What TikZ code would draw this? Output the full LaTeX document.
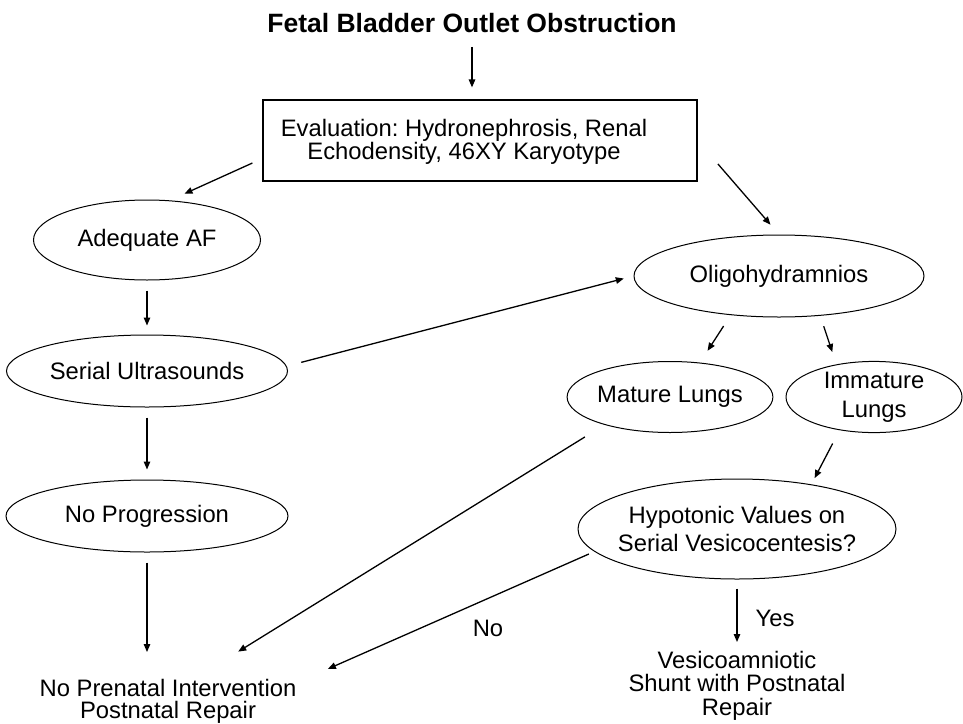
\documentclass[tikz,border=0pt]{standalone}
\usepackage{fontspec}
\setmainfont{Liberation Sans}
\frenchspacing
\usetikzlibrary{arrows.meta,shapes.geometric}
\tikzset{
  ttl/.style={inner sep=0pt,font=\fontsize{26.5}{30}\selectfont\bfseries},   % heading
  bubble/.style={ellipse,draw=black,line width=1pt,inner sep=0pt,align=center,
                 font=\fontsize{23.8}{28}\selectfont},                       % ellipse node
  evalbox/.style={draw=black,line width=1.2pt,minimum width=434pt,
                  minimum height=81pt,inner sep=0pt},                        % frame
  lbl/.style={inner sep=0pt,align=center,font=\fontsize{23.8}{23}\selectfont}, % plain text
  flow/.style={-{Triangle[length=8pt,width=6.5pt]},line width=1.3pt},       % arrow
}

\begin{document}
\begin{tikzpicture}[x=1pt,y=-1pt]
  \useasboundingbox (0,0) rectangle (963,723);
  \node[ttl] (title) at (472,23) {Fetal Bladder Outlet Obstruction};
  \node[evalbox] (eval) at (480,140.5) {};
  \node[lbl,font=\fontsize{23.8}{22}\selectfont] (evaltxt) at (464,142)
    {Evaluation: Hydronephrosis, Renal\\Echodensity, 46XY Karyotype};

  % left column
  \node[bubble,minimum width=227pt,minimum height=80pt] (af) at (147,240) {Adequate AF};
  \node[bubble,minimum width=281pt,minimum height=72pt] (serial) at (147,371) {Serial Ultrasounds};
  \node[bubble,minimum width=282pt,minimum height=72pt] (noprog) at (147,516) {No Progression};
  \node[lbl,anchor=north,font=\fontsize{23.8}{22}\selectfont] (noint) at (168,679)
    {No Prenatal Intervention\\Postnatal Repair};

  % right column
  \node[bubble,minimum width=290pt,minimum height=82pt] (oligo) at (779,276) {Oligohydramnios};
  \node[bubble,minimum width=181pt,minimum height=71pt] (mature) at (670,397) {Mature Lungs};
  \node[bubble,minimum width=176pt,minimum height=71pt,font=\fontsize{23.8}{29}\selectfont]
    (immature) at (874,397) {Immature\\Lungs};
  \node[bubble,minimum width=318pt,minimum height=100pt,inner xsep=-7pt] (hypo) at (737,529)
    {Hypotonic Values on\\Serial Vesicocentesis?};
  \node[lbl,anchor=north,font=\fontsize{23.8}{23.5}\selectfont] (vesico) at (737,651)
    {Vesicoamniotic\\Shunt with Postnatal\\Repair};
  \node[lbl] (yes) at (775,618) {Yes};
  \node[lbl] (no) at (488,628) {No};

  % arrows
  \draw[flow,shorten <=14pt,shorten >=12pt] (title.south) -- (title.south |- eval.north);
  \draw[flow,shorten <=11pt,shorten >=16pt] ([yshift=-18pt]eval.west) -- (af.60);
  \draw[flow,shorten <=31pt,shorten >=13pt] (eval.east) -- (oligo.north);
  \draw[flow,shorten <=10pt,shorten >=9pt] (af) -- (serial);
  \draw[flow,shorten <=10pt,shorten >=10pt] (serial) -- (noprog);
  \draw[flow,shorten <=10pt,shorten >=27pt] (noprog.south) -- (noprog.south |- noint.north);
  \draw[flow,shorten <=15pt,shorten >=10pt] (serial.2) -- (oligo.west);
  \draw[flow,shorten <=13pt,shorten >=14pt] (oligo.219) -- (mature.49);
  \draw[flow,shorten <=11pt,shorten >=13pt] (oligo.316) -- (immature.139);
  \draw[flow,shorten <=15pt,shorten >=7pt] (immature.224) -- (hypo.31);
  \draw[flow,shorten <=23pt,shorten >=52pt] (mature.203) -- ([xshift=26pt]noint.north);
  \draw[flow,shorten <=6pt,shorten >=25pt] (hypo.189) -- ([xshift=137pt]noint.north);
  \draw[flow,shorten <=9pt,shorten >=9pt] (hypo.south) -- (hypo.south |- vesico.north);
\end{tikzpicture}
\end{document}
